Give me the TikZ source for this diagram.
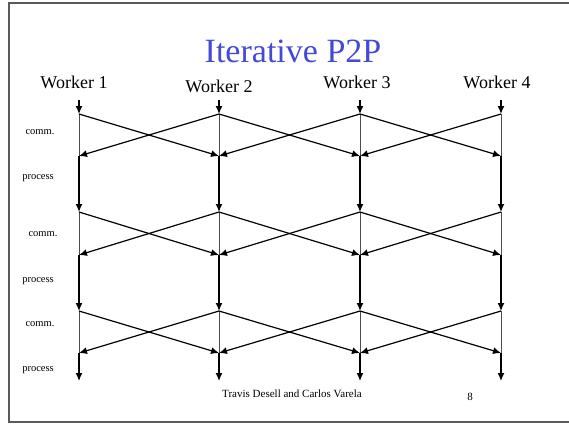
\documentclass[tikz,border=0pt]{standalone}
\usepackage{fontspec}
\setmainfont{Liberation Serif}
\usetikzlibrary{arrows.meta}
\definecolor{titleblue}{RGB}{66,74,214}
\definecolor{framegray}{RGB}{90,90,90}
\tikzset{
  msg/.style={line width=1.2pt, -{Latex[length=8pt,width=7pt]}},
  proc/.style={line width=1.3pt, -{Latex[length=8pt,width=7pt]}},
  keep/.style={line width=0.7pt, draw=black!70},
  phase/.style={font=\fontsize{10.5}{12}\selectfont, inner sep=0pt},
  worker/.style={font=\fontsize{18}{20}\selectfont, inner sep=0pt, anchor=base},
}
\begin{document}
\begin{tikzpicture}[x=1pt, y=-1pt]
\useasboundingbox (0,0) rectangle (569,424);
% slide frame
\draw[framegray, line width=1.4pt] (569,3) -- (9,3) -- (9,422) -- (569,422);

% title
\node[font=\fontsize{34}{38}\selectfont, text=titleblue, inner sep=0pt, anchor=base] (title) at (293,62) {Iterative P2P};

% worker names
\node[worker] (n1) at (74,88) {Worker 1};
\node[worker] (n2) at (219,92) {Worker 2};
\node[worker] (n3) at (357,88) {Worker 3};
\node[worker] (n4) at (497,88) {Worker 4};

% time levels per worker: s = start, a/b = comm. begin/end
\foreach \i/\x in {1/79, 2/219, 3/360, 4/501} {
  \coordinate (s\i) at (\x,100);
  \coordinate (a1\i) at (\x,114);
  \coordinate (b1\i) at (\x,156);
  \coordinate (a2\i) at (\x,212);
  \coordinate (b2\i) at (\x,255);
  \coordinate (a3\i) at (\x,311);
  \coordinate (b3\i) at (\x,353);
  \coordinate (e\i) at (\x,381);
}

% phase labels
\node[phase] (c1) at (40,132) {comm.};
\node[phase] (p1) at (38,178) {process};
\node[phase] (c2) at (43,234) {comm.};
\node[phase] (p2) at (38,281) {process};
\node[phase] (c3) at (40,324) {comm.};
\node[phase] (p3) at (38,370) {process};

% entry arrows
\foreach \i in {1,...,4} \draw[proc] (s\i) -- (a1\i);

% three rounds of communication followed by processing
\foreach \r/\nx in {1/2, 2/3} {
  \foreach \i in {1,...,4} {
    \draw[keep] (a\r\i) -- (b\r\i);
    \draw[proc] (b\r\i) -- (a\nx\i);
  }
}
\foreach \i in {1,...,4} {
  \draw[keep] (a3\i) -- (b3\i);
  \draw[proc] (b3\i) -- (e\i);
}
\foreach \r in {1,2,3} {
  \draw[msg] (a\r1) -- (b\r2);
  \draw[msg] (a\r2) -- (b\r1);
  \draw[msg] (a\r2) -- (b\r3);
  \draw[msg] (a\r3) -- (b\r2);
  \draw[msg] (a\r3) -- (b\r4);
  \draw[msg] (a\r4) -- (b\r3);
}

% footer
\node[font=\fontsize{11}{13}\selectfont, inner sep=0pt, anchor=base] (foot) at (292,397) {Travis Desell and Carlos Varela};
\node[font=\fontsize{11}{13}\selectfont, inner sep=0pt, anchor=base] (page) at (470,400) {8};
\end{tikzpicture}
\end{document}
